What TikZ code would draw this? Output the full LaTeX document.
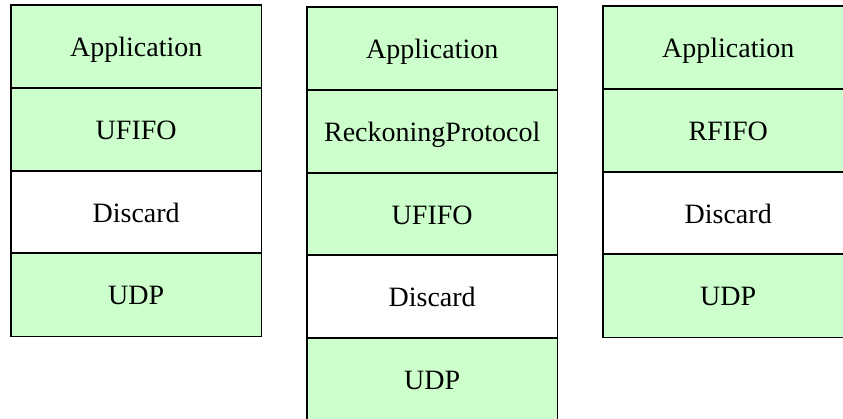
\documentclass[tikz,border=0pt]{standalone}
\usepackage{fontspec}
\setmainfont{Liberation Serif}
\definecolor{layergreen}{HTML}{CCFFCC}
\begin{document}
\begin{tikzpicture}[x=1pt,y=-1pt,
  layer/.style={rectangle, minimum width=250pt, minimum height=82.75pt,
    inner sep=0pt, anchor=north west, text height=20pt, text depth=0pt,
    font=\fontsize{28}{33}\selectfont},
  gl/.style={layer, fill=layergreen},
  wl/.style={layer, fill=white},
  edge/.style={draw=black, line width=1.6pt}]
\useasboundingbox (0,0) rectangle (843,419);
\clip (0,0) rectangle (843,419);
% stack 1
\node[gl] (a1) at (11,5) {Application};
\node[gl] (a2) at (11,87.75) {UFIFO};
\node[wl] (a3) at (11,170.5) {Discard};
\node[gl] (a4) at (11,253.25) {UDP};
% stack 2
\node[gl] (b1) at (307,7) {Application};
\node[gl] (b2) at (307,89.75) {ReckoningProtocol};
\node[gl] (b3) at (307,172.5) {UFIFO};
\node[wl] (b4) at (307,255.25) {Discard};
\node[gl] (b5) at (307,338) {UDP};
% stack 3
\node[gl] (c1) at (603,6) {Application};
\node[gl] (c2) at (603,88.75) {RFIFO};
\node[wl] (c3) at (603,171.5) {Discard};
\node[gl] (c4) at (603,254.25) {UDP};
% borders drawn on top
\foreach \n in {a1,a2,a3,a4,b1,b2,b3,b4,b5,c1,c2,c3,c4}
  \draw[edge] (\n.north west) rectangle (\n.south east);
\end{tikzpicture}
\end{document}
